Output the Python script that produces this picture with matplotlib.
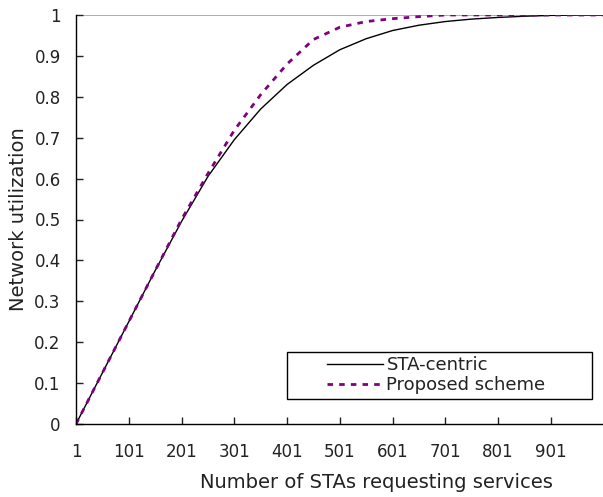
import matplotlib.pyplot as plt
from matplotlib.patches import Rectangle

# -----------------------------------
# Data
# -----------------------------------

stas = [1, 51, 101, 151, 201, 251, 301, 351, 401, 451, 501, 551, 601,
        651, 701, 751, 801, 851, 901, 951, 1000]

sta_centric = [0.0, 0.125, 0.25, 0.375, 0.495, 0.605, 0.695, 0.77, 0.83,
               0.877, 0.915, 0.942, 0.962, 0.975, 0.984, 0.99, 0.994,
               0.997, 0.999, 1.0, 1.0]

proposed = [0.0, 0.125, 0.25, 0.375, 0.5, 0.612, 0.718, 0.805, 0.88,
            0.94, 0.97, 0.984, 0.991, 0.996, 1.0, 1.0, 1.0, 1.0,
            1.0, 1.0, 1.0]

x_ticks = [1, 101, 201, 301, 401, 501, 601, 701, 801, 901]
y_ticks = [0, 0.1, 0.2, 0.3, 0.4, 0.5, 0.6, 0.7, 0.8, 0.9, 1]
y_labels = ["0", "0.1", "0.2", "0.3", "0.4", "0.5", "0.6", "0.7", "0.8", "0.9", "1"]

# -----------------------------------
# Plot
# -----------------------------------

plt.rcParams["font.family"] = ["DejaVu Sans"]

fig = plt.figure(figsize=(6.03, 4.97), dpi=100)
ax = fig.add_axes([76 / 603, 73 / 497, 527 / 603, 409 / 497])

ax.plot(stas, sta_centric, color="black", lw=1.0, label="STA-centric")
ax.plot(stas, proposed, color="#800080", lw=2.0, linestyle=(0, (2, 2.2)),
        label="Proposed scheme")

ax.axhline(1.0, color="#a0a0a0", lw=1.2, zorder=0)

ax.set_xlim(1, 1000)
ax.set_ylim(0, 1)
ax.set_xticks(x_ticks)
ax.set_yticks(y_ticks)
ax.set_yticklabels(y_labels)
ax.tick_params(direction="in", length=5, width=1, labelsize=12,
               colors="#222222")
ax.tick_params(axis="x", pad=14)
ax.tick_params(axis="y", pad=11)

for side in ["top", "right"]:
    ax.spines[side].set_visible(False)
for side in ["left", "bottom"]:
    ax.spines[side].set_linewidth(1.0)

ax.set_xlabel("Number of STAs requesting services", fontsize=14, color="#222222")
ax.xaxis.set_label_coords(0.57, -0.12)
ax.set_ylabel("Network utilization", fontsize=14, color="#222222")
ax.yaxis.set_label_coords(-0.092, 0.5)

# legend box (Excel style, wide frame with handles set in)
ax.add_patch(Rectangle((0.400, 0.061), 0.579, 0.115, transform=ax.transAxes,
                       facecolor="white", edgecolor="black", lw=1.0, zorder=5))

leg = ax.legend(loc="center left", bbox_to_anchor=(0.476, 0.119),
                fontsize=13, frameon=False,
                handlelength=3.1, handletextpad=0.2, borderpad=0,
                labelspacing=0.1, borderaxespad=0)
leg.set_zorder(6)
for t in leg.get_texts():
    t.set_color("#222222")

fig.savefig("out.png", dpi=100)
